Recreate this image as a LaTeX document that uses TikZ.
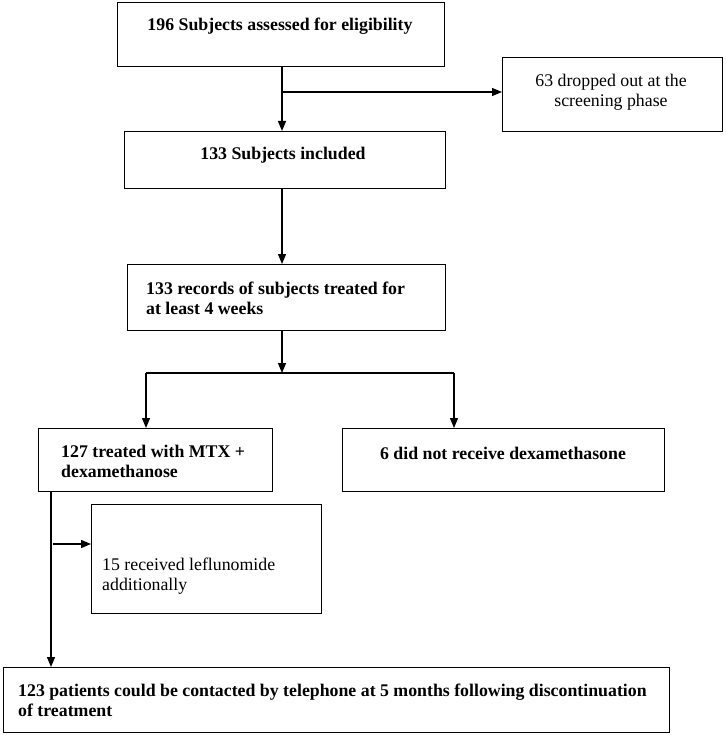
\documentclass[tikz,border=0pt]{standalone}
\usepackage{fontspec}
\setmainfont{Liberation Serif}
\usetikzlibrary{arrows.meta}
\begin{document}
\begin{tikzpicture}[x=1pt,y=-1pt,
  box/.style={draw, line width=1.3pt, inner sep=0, anchor=north west, rectangle},
  lbl/.style={inner sep=0, font=\fontsize{17.8}{20}\selectfont\bfseries},
  reg/.style={inner sep=0, font=\fontsize{17.8}{20}\selectfont},
  arr/.style={line width=1.3pt, -{Triangle[length=10pt,width=8pt]}},
  ln/.style={line width=1.3pt}]
\useasboundingbox (0,0) rectangle (725,735);
% boxes
\node[box, minimum width=327pt, minimum height=64pt] (b1) at (117,2) {};
\node[box, minimum width=220pt, minimum height=74pt] (b2) at (502,57) {};
\node[box, minimum width=321pt, minimum height=57pt] (b3) at (124,131) {};
\node[box, minimum width=318pt, minimum height=66pt] (b4) at (127,264) {};
\node[box, minimum width=234pt, minimum height=63pt] (b5) at (38,428) {};
\node[box, minimum width=322pt, minimum height=63pt] (b6) at (342,428) {};
\node[box, minimum width=230pt, minimum height=109pt] (b7) at (91,504) {};
\node[box, minimum width=666pt, minimum height=65pt] (b8) at (3,667) {};
% texts
\node[lbl] (t1) at (280,26) {196 Subjects assessed for eligibility};
\node[reg, align=center] (t2) at (611,92) {63 dropped out at the\\screening phase};
\node[lbl] (t3) at (283,155) {133 Subjects included};
\node[lbl, align=left, anchor=west] (t4) at (146,298.5) {133 records of subjects treated for\\at least 4 weeks};
\node[lbl, align=left, anchor=west] (t5) at (61,461) {127 treated with MTX +\\dexamethanose};
\node[lbl] (t6) at (503,453) {6 did not receive dexamethasone};
\node[reg, align=left, anchor=west] (t7) at (102,576) {15 received leflunomide\\additionally};
\node[lbl, align=left, anchor=west] (t8) at (18,700) {123 patients could be contacted by telephone at 5 months following discontinuation\\of treatment};
% connectors
\coordinate (s1) at (282,0);
\draw[arr] (b1.south -| s1) -- (b3.north -| s1);
\coordinate (j1) at (283,92);
\draw[arr] (j1) -- (j1 -| b2.west);
\draw[arr] (b3.south -| s1) -- (b4.north -| s1);
\coordinate (sp) at (282,373);
\coordinate (sL) at (146,373);
\coordinate (sR) at (454,373);
\draw[arr] (b4.south -| sp) -- (sp);
\draw[ln] (sL) -- (sR);
\draw[arr] (sL) -- (sL |- b5.north);
\draw[arr] (sR) -- (sR |- b6.north);
\coordinate (t) at (51,0);
\draw[arr] (b5.south -| t) -- (b8.north -| t);
\coordinate (j2) at (53,544);
\draw[arr] (j2) -- (j2 -| b7.west);
\end{tikzpicture}
\end{document}
